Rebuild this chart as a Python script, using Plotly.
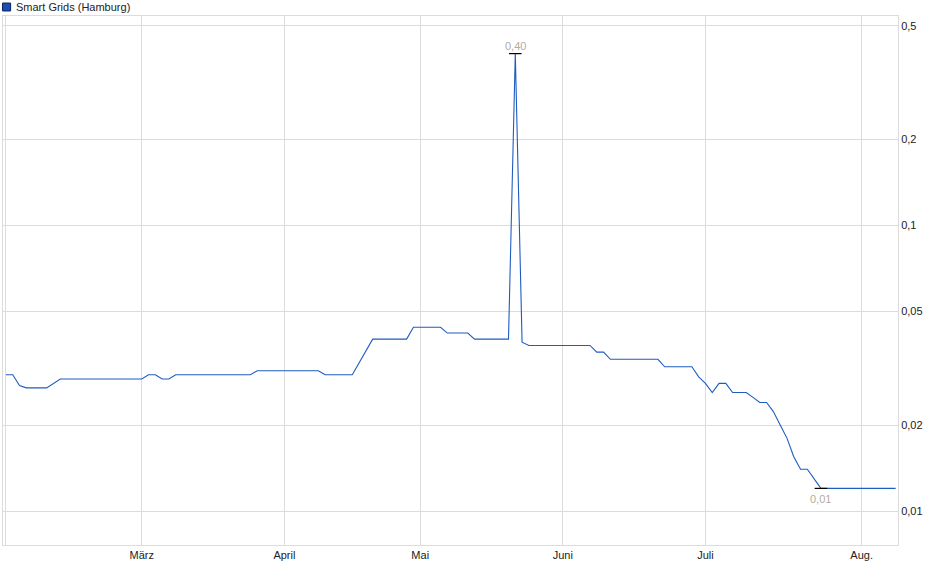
import math
import plotly.graph_objects as go

# Schlusskurse (nur Knickpunkte der Linie), Börse Hamburg, 2025
dates = [
    "2025-02-03", "2025-02-04", "2025-02-05", "2025-02-06", "2025-02-11",
    "2025-02-12", "2025-02-13", "2025-03-03", "2025-03-04", "2025-03-05",
    "2025-03-06", "2025-03-07", "2025-03-10", "2025-03-25", "2025-03-26",
    "2025-04-08", "2025-04-09", "2025-04-15", "2025-04-16", "2025-04-17",
    "2025-04-22", "2025-04-29", "2025-04-30", "2025-05-07", "2025-05-08",
    "2025-05-13", "2025-05-14", "2025-05-21", "2025-05-22", "2025-05-23",
    "2025-05-26", "2025-06-06", "2025-06-09", "2025-06-10", "2025-06-11",
    "2025-06-20", "2025-06-23", "2025-06-27", "2025-06-30", "2025-07-01",
    "2025-07-02", "2025-07-03", "2025-07-04", "2025-07-07", "2025-07-09",
    "2025-07-10", "2025-07-11", "2025-07-14", "2025-07-15", "2025-07-16",
    "2025-07-17", "2025-07-18", "2025-07-21", "2025-07-22", "2025-07-23",
    "2025-07-24", "2025-08-08",
]
prices = [
    0.030, 0.030, 0.0275, 0.027, 0.027,
    0.028, 0.029, 0.029, 0.030, 0.030,
    0.029, 0.029, 0.030, 0.030, 0.031,
    0.031, 0.030, 0.030, 0.033, 0.036,
    0.040, 0.040, 0.044, 0.044, 0.042,
    0.042, 0.040, 0.040, 0.40, 0.039,
    0.038, 0.038, 0.036, 0.036, 0.034,
    0.034, 0.032, 0.032, 0.0295, 0.028,
    0.026, 0.028, 0.028, 0.026, 0.026,
    0.025, 0.024, 0.024, 0.0223, 0.020,
    0.018, 0.0155, 0.014, 0.014, 0.013,
    0.012, 0.012,
]

holidays = ["2025-04-18", "2025-04-21", "2025-05-01"]

month_ticks = ["2025-02-03", "2025-03-03", "2025-04-01", "2025-05-02",
               "2025-06-02", "2025-07-01", "2025-08-01"]
month_labels = ["", "März", "April", "Mai", "Juni", "Juli", "Aug."]

y_ticks = [0.01, 0.02, 0.05, 0.1, 0.2, 0.5]
y_labels = ["0,01", "0,02", "0,05", "0,1", "0,2", "0,5"]

LINE = "#1f5cc0"
GRID = "#dcdcdc"
NOTE = "#b3aba3"
FONT = "Liberation Sans, Arial, sans-serif"

i_max = prices.index(max(prices))
i_min = prices.index(min(prices))

fig = go.Figure()

fig.add_trace(go.Scatter(
    x=dates,
    y=prices,
    mode="lines",
    line=dict(color=LINE, width=1.1),
    name="Smart Grids (Hamburg)",
    showlegend=False,
))

# Hoch/Tief-Markierung
fig.add_trace(go.Scatter(
    x=[dates[i_max], dates[i_min]],
    y=[prices[i_max], prices[i_min]],
    mode="markers",
    marker=dict(symbol="line-ew", size=9, line=dict(color="black", width=1.2)),
    showlegend=False,
    hoverinfo="skip",
))

# bei log-Achsen erwarten Annotationen log10-Werte
fig.add_annotation(
    x=dates[i_max], y=math.log10(prices[i_max]), xref="x", yref="y",
    text=f"{prices[i_max]:.2f}".replace(".", ","),
    showarrow=False, yshift=8, font=dict(color=NOTE, size=11, family=FONT),
)
fig.add_annotation(
    x=dates[i_min], y=math.log10(prices[i_min]), xref="x", yref="y",
    text=f"{prices[i_min]:.2f}".replace(".", ","),
    showarrow=False, yshift=-11, font=dict(color=NOTE, size=11, family=FONT),
)

# Legenden-Kästchen oben links
fig.add_shape(
    type="rect", xref="paper", yref="paper",
    x0=-0.0005, x1=0.0085, y0=1.0095, y1=1.0245,
    fillcolor="#1a4fb0", line=dict(color="#0a2060", width=1),
)
fig.add_annotation(
    x=0.0125, y=1.017, xref="paper", yref="paper",
    text="Smart Grids (Hamburg)", showarrow=False,
    xanchor="left", yanchor="middle",
    font=dict(color="#222222", size=11, family=FONT),
)

fig.update_layout(
    width=940,
    height=579,
    margin=dict(l=3, r=42, t=16, b=34),
    paper_bgcolor="white",
    plot_bgcolor="white",
    font=dict(family=FONT, size=11, color="#222222"),
    xaxis=dict(
        type="date",
        range=["2025-01-31 13:40", "2025-08-08 08:24"],
        rangebreaks=[dict(bounds=["sat", "mon"]), dict(values=holidays)],
        tickvals=month_ticks,
        ticktext=month_labels,
        showgrid=True,
        gridcolor=GRID,
        showline=True,
        linecolor=GRID,
        mirror=True,
        ticks="",
        zeroline=False,
    ),
    yaxis=dict(
        type="log",
        side="right",
        range=[-2.1191, -0.2662],
        tickvals=y_ticks,
        ticktext=y_labels,
        showgrid=True,
        gridcolor=GRID,
        showline=True,
        linecolor=GRID,
        mirror=True,
        ticks="",
        zeroline=False,
    ),
)

# Seitenrand des Browsers entfernen, damit die Grafik bei 0/0 beginnt
fig.write_html(
    "out.html",
    config={"displayModeBar": False},
    post_script="document.body.style.margin='0px';document.body.style.overflow='hidden';",
)
